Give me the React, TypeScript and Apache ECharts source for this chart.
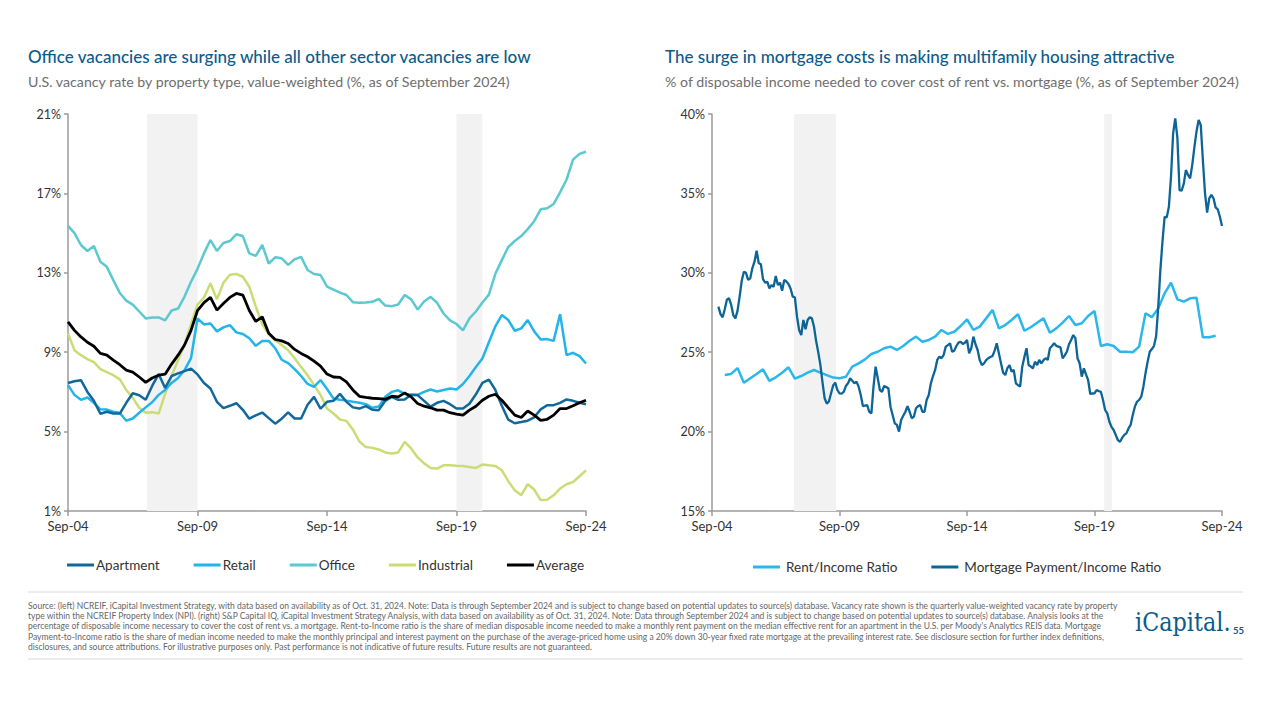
import React, { useEffect, useRef } from "react";
import * as echarts from "echarts";

// ---------- Data ----------
const xTickLabels = ["Sep-04", "Sep-09", "Sep-14", "Sep-19", "Sep-24"];

// Left chart: quarterly vacancy rates (%), Sep-04 .. Sep-24 (81 quarters)
const apartment = [
  7.45, 7.54, 7.59, 7.0, 6.55, 5.9, 6.0, 5.91, 5.91, 6.45,
  6.93, 6.83, 6.6, 7.3, 7.9, 7.2, 7.8, 7.93, 8.05, 8.17,
  7.88, 7.45, 7.17, 6.5, 6.18, 6.3, 6.43, 6.1, 5.65, 5.82,
  5.96, 5.68, 5.4, 5.65, 5.97, 5.66, 5.66, 6.35, 6.75, 6.15,
  6.5, 6.55, 6.9, 6.5, 6.22, 6.16, 6.28, 6.1, 6.08, 6.55,
  6.75, 6.6, 6.62, 6.86, 6.84, 6.55, 6.26, 6.45, 6.55, 6.38,
  6.16, 6.16, 6.4, 6.88, 7.45, 7.62, 7.1, 6.3, 5.6, 5.42,
  5.48, 5.55, 5.72, 6.12, 6.33, 6.33, 6.45, 6.62, 6.55, 6.45,
  6.38,
];
const retail = [
  7.34, 6.85, 6.6, 6.72, 6.45, 6.12, 6.11, 6.0, 5.94, 5.55,
  5.66, 5.95, 6.22, 6.48, 6.85, 7.1, 7.45, 7.7, 8.1, 8.7,
  10.7, 10.4, 10.45, 10.05, 10.25, 10.36, 10.0, 9.92, 9.7, 9.32,
  9.57, 9.57, 9.2, 8.62, 8.45, 8.15, 7.8, 7.4, 7.25, 7.6,
  7.15, 6.67, 6.6, 6.56, 6.5, 6.45, 6.38, 6.2, 6.26, 6.75,
  7.0, 7.08, 6.9, 6.86, 6.85, 7.0, 7.12, 7.02, 7.1, 7.17,
  7.12, 7.4, 7.8, 8.25, 8.68, 9.5, 10.3, 10.87, 10.62, 10.08,
  10.2, 10.62, 10.05, 9.64, 9.66, 9.57, 10.92, 8.85, 8.97, 8.8,
  8.43,
];
const office = [
  15.36, 15.0, 14.4, 14.1, 14.35, 13.56, 13.3, 12.63, 11.98, 11.6,
  11.4, 11.05, 10.7, 10.75, 10.75, 10.6, 11.1, 11.2, 11.8, 12.55,
  13.2, 13.98, 14.65, 14.1, 14.5, 14.6, 14.94, 14.85, 13.98, 13.85,
  14.4, 13.47, 13.78, 13.73, 13.4, 13.68, 13.8, 13.14, 12.94, 12.89,
  12.3, 12.15, 12.0, 11.88, 11.52, 11.49, 11.5, 11.54, 11.68, 11.35,
  11.32, 11.4, 11.88, 11.66, 11.15, 11.55, 11.79, 11.49, 10.95, 10.6,
  10.42, 10.1, 10.7, 11.05, 11.5, 11.9, 12.95, 13.64, 14.3, 14.6,
  14.85, 15.2, 15.6, 16.2, 16.25, 16.47, 17.05, 17.7, 18.7, 18.99,
  19.1,
];
const industrial = [
  9.95, 9.1, 8.85, 8.65, 8.5, 8.15, 8.0, 7.84, 7.63, 7.1,
  6.7, 6.2, 5.95, 5.98, 5.91, 6.9, 7.8, 8.6, 9.4, 10.4,
  11.4, 11.75, 12.47, 11.66, 12.5, 12.9, 12.94, 12.8, 12.3, 11.3,
  10.4, 9.9, 9.6, 9.36, 9.1, 8.7, 8.26, 7.84, 7.35, 6.85,
  6.16, 5.91, 5.61, 5.54, 5.1, 4.5, 4.22, 4.18, 4.1, 3.95,
  3.9, 3.95, 4.48, 4.15, 3.7, 3.4, 3.17, 3.14, 3.3, 3.3,
  3.28, 3.27, 3.22, 3.17, 3.34, 3.3, 3.27, 3.05, 2.5, 2.04,
  1.8, 2.35, 2.08, 1.55, 1.57, 1.79, 2.13, 2.35, 2.46, 2.75,
  3.05,
];
const average = [
  10.53, 10.1, 9.77, 9.5, 9.3, 8.94, 8.85, 8.6, 8.37, 8.1,
  8.0, 7.75, 7.48, 7.7, 7.84, 7.89, 8.4, 8.85, 9.36, 10.1,
  11.1, 11.5, 11.76, 11.12, 11.45, 11.76, 11.96, 11.88, 11.1, 10.55,
  10.78, 9.95, 9.64, 9.57, 9.44, 9.14, 8.94, 8.77, 8.55, 8.3,
  7.9, 7.75, 7.73, 7.5, 7.1, 6.78, 6.72, 6.68, 6.66, 6.63,
  6.78, 6.75, 6.95, 6.75, 6.42, 6.28, 6.2, 6.08, 6.08, 5.95,
  5.88, 5.83, 6.08, 6.28, 6.58, 6.78, 6.88, 6.58, 6.2, 5.83,
  5.71, 6.04, 5.83, 5.57, 5.62, 5.83, 6.16, 6.16, 6.3, 6.45,
  6.58,
];
const leftRecessions = [[12.2, 20], [60, 64]]; // in quarters since Sep-04

// Right chart: monthly mortgage payment / income (%), from month 3 (Dec-04) to month 240 (Sep-24)
const mortgageStartMonth = 3;
const mortgage = [
  27.87, 27.4, 27.2, 27.7, 28.3, 28.4, 28.0, 27.34, 27.13, 27.6,
  28.5, 29.5, 30.07, 30.0, 29.55, 29.65, 30.3, 30.7, 31.39, 30.6,
  30.55, 29.6, 29.38, 29.44, 29.02, 29.23, 29.12, 29.8, 29.23, 29.38,
  28.87, 29.55, 29.45, 29.3, 29.0, 28.5, 28.46, 27.24, 26.4, 26.08,
  27.03, 26.44, 27.03, 27.2, 27.13, 26.6, 25.7, 25.0, 24.2, 23.1,
  22.1, 21.76, 21.9, 22.4, 22.9, 23.08, 22.62, 22.41, 22.39, 22.5,
  22.87, 23.04, 23.36, 23.2, 23.04, 23.14, 22.83, 22.3, 21.61, 21.64,
  21.67, 21.25, 21.15, 22.83, 24.09, 23.36, 22.62, 22.51, 22.87, 22.8,
  22.73, 21.57, 21.05, 20.52, 20.42, 20.0, 20.73, 21.0, 21.25, 21.61,
  21.25, 20.84, 20.94, 21.47, 21.6, 21.67, 21.25, 21.25, 21.99, 22.3,
  23.04, 23.5, 23.88, 24.51, 24.72, 24.62, 24.82, 25.35, 25.45, 25.56,
  25.03, 25.1, 25.39, 25.6, 25.66, 25.52, 25.6, 25.77, 24.93, 25.25,
  25.98, 25.5, 25.14, 24.5, 24.19, 24.3, 24.5, 24.62, 24.7, 24.76,
  25.1, 25.56, 24.93, 24.3, 23.71, 23.56, 24.0, 24.19, 23.77, 23.88,
  23.04, 22.93, 22.83, 24.09, 24.7, 25.25, 24.19, 24.1, 23.98, 24.4,
  24.19, 24.51, 24.3, 24.5, 24.62, 24.51, 25.25, 25.39, 25.56, 25.4,
  25.35, 25.3, 24.62, 24.8, 25.03, 25.5, 25.77, 26.08, 25.88, 24.62,
  24.3, 23.46, 23.98, 23.6, 23.25, 22.37, 22.4, 22.41, 22.62, 22.55,
  22.51, 21.99, 21.36, 21.15, 20.62, 20.3, 20.1, 19.79, 19.47, 19.36,
  19.6, 19.79, 19.89, 20.2, 20.42, 21.05, 21.57, 21.88, 22.0, 22.2,
  22.83, 23.67, 24.4, 25.03, 25.2, 25.4, 26.0, 27.87, 30.18, 32.0,
  33.53, 33.49, 34.16, 36.05, 38.78, 39.73, 38.5, 35.21, 35.17, 35.6,
  36.47, 36.16, 35.95, 36.8, 37.9, 38.9, 39.62, 39.31, 37.1, 35.01,
  33.79, 34.69, 34.9, 34.69, 34.12, 34.0, 33.53, 32.95,
];
// Quarterly rent / income (%), from month 6 (Mar-05), every 3 months
const rentStartMonth = 6;
const rentStepMonths = 3;
const rent = [
  23.56, 23.63, 24.0, 23.08, 23.36, 23.63, 23.92, 23.19, 23.42, 23.71,
  24.05, 23.33, 23.5, 23.71, 23.88, 23.71, 23.56, 23.4, 23.36, 23.45,
  24.09, 24.3, 24.55, 24.89, 25.03, 25.25, 25.35, 25.14, 25.39, 25.72,
  25.98, 25.66, 25.77, 25.98, 26.4, 26.15, 26.29, 26.65, 27.07, 26.4,
  26.61, 27.13, 27.66, 26.5, 26.71, 27.03, 27.39, 26.35, 26.57, 26.86,
  27.13, 26.23, 26.5, 26.86, 27.28, 26.71, 26.82, 27.28, 27.59, 25.39,
  25.5, 25.39, 25.03, 25.03, 25.0, 25.35, 27.45, 27.2, 27.76, 28.71,
  29.38, 28.33, 28.18, 28.39, 28.43, 25.94, 25.94, 26.04,
];
const rightRecessions = [[38.6, 58.4], [184.6, 188.2]]; // in months since Sep-04

const leftTitle = "Office vacancies are surging while all other sector vacancies are low";
const leftSubtitle = "U.S. vacancy rate by property type, value-weighted (%, as of September 2024)";
const rightTitle = "The surge in mortgage costs is making multifamily housing attractive";
const rightSubtitle = "% of disposable income needed to cover cost of rent vs. mortgage (%, as of September 2024)";
const footnoteLines = [
  "Source: (left) NCREIF, iCapital Investment Strategy, with data based on availability as of Oct. 31, 2024. Note: Data is through September 2024 and is subject to change based on potential updates to source(s) database. Vacancy rate shown is the quarterly value-weighted vacancy rate by property",
  "type within the NCREIF Property Index (NPI). (right) S&P Capital IQ, iCapital Investment Strategy Analysis, with data based on availability as of Oct. 31, 2024. Note: Data through September 2024 and is subject to change based on potential updates to source(s) database. Analysis looks at the",
  "percentage of disposable income necessary to cover the cost of rent vs. a mortgage. Rent-to-Income ratio is the share of median disposable income needed to make a monthly rent payment on the median effective rent for an apartment in the U.S. per Moody's Analytics REIS data. Mortgage",
  "Payment-to-Income ratio is the share of median income needed to make the monthly principal and interest payment on the purchase of the average-priced home using a 20% down 30-year fixed rate mortgage at the prevailing interest rate. See disclosure section for further index definitions,",
  "disclosures, and source attributions. For illustrative purposes only. Past performance is not indicative of future results. Future results are not guaranteed.",
];

// ---------- Styles ----------
const FONT = "Lato, 'Open Sans', sans-serif";
const C = {
  apartment: "#11689B",
  retail: "#22B4EA",
  office: "#5CC8D0",
  industrial: "#CADD75",
  average: "#000000",
  rent: "#2AB7EC",
  mortgage: "#0D6496",
  title: "#0B5B8D",
  sub: "#6E6E6E",
  axis: "#9B9B9B",
  label: "#333333",
  shade: "#F2F2F2",
};

function buildOption(): any {
  const axisLine = { show: true, onZero: false, lineStyle: { color: C.axis, width: 1.5 } };
  const xAxisBase = {
    type: "value",
    axisLine,
    axisTick: { show: true, length: 5, lineStyle: { color: C.axis, width: 1.5 } },
    splitLine: { show: false },
  };
  const yAxisBase = {
    type: "value",
    axisLine,
    axisTick: { show: true, length: 4, lineStyle: { color: C.axis, width: 1.5 } },
    splitLine: { show: false },
    axisLabel: { formatter: "{value}%", color: C.label, fontSize: 12.5, fontFamily: FONT, margin: 7 },
  };
  const lineSeries = (name: string, data: number[][], color: string, xi: number, width: number, z: number) => ({
    name,
    type: "line",
    xAxisIndex: xi,
    yAxisIndex: xi,
    data,
    showSymbol: false,
    symbol: "none",
    lineStyle: { color, width },
    itemStyle: { color },
    z,
    silent: true,
  });
  const shadeSeries = (xi: number, ranges: number[][]) => ({
    name: "shade" + xi,
    type: "line",
    xAxisIndex: xi,
    yAxisIndex: xi,
    data: [],
    silent: true,
    z: 1,
    markArea: {
      silent: true,
      itemStyle: { color: C.shade },
      data: ranges.map((r) => [{ xAxis: r[0] }, { xAxis: r[1] }]),
    },
  });
  const q = (arr: number[]) => arr.map((v, i) => [i, v]);

  const textEl = (text: string, left: number, top: number, size: number, fill: string, weight: any = "normal", family = FONT, extra: any = {}) => ({
    type: "text",
    left,
    top,
    silent: true,
    ...extra,
    style: { text, fill, fontSize: size, fontFamily: family, fontWeight: weight },
  });

  const graphics: any[] = [
    textEl(leftTitle, 28, 48, 17, C.title, 500),
    textEl(leftSubtitle, 28, 74, 14.2, C.sub),
    textEl(rightTitle, 665, 48, 17, C.title, 500),
    textEl(rightSubtitle, 665, 74, 14.2, C.sub),
    { type: "line", silent: true, shape: { x1: 28, y1: 592, x2: 1243, y2: 592 }, style: { stroke: "#D6DBE1", lineWidth: 1 } },
    { type: "line", silent: true, shape: { x1: 28, y1: 659, x2: 1243, y2: 659 }, style: { stroke: "#D6DBE1", lineWidth: 1 } },
    ...footnoteLines.map((t, i) => textEl(t, 28, 601 + i * 10.4, 8.5, "#666666")),
    textEl("iCapital.", 1135, 609, 26, C.title, "normal", "'DejaVu Serif', serif", { scaleX: 0.86 }),
    textEl("55", 1233, 625, 9.5, C.title, "bold"),
  ];

  return {
    animation: false,
    backgroundColor: "#ffffff",
    textStyle: { fontFamily: FONT },
    grid: [
      { left: 68, top: 114, width: 518, height: 397 },
      { left: 712, top: 114, width: 510, height: 397 },
    ],
    xAxis: [
      {
        ...xAxisBase,
        gridIndex: 0,
        min: 0,
        max: 80,
        interval: 20,
        axisLabel: { formatter: (v: number) => xTickLabels[Math.round(v / 20)], color: C.label, fontSize: 13, fontFamily: FONT, margin: 8 },
      },
      {
        ...xAxisBase,
        gridIndex: 1,
        min: 0,
        max: 240,
        interval: 60,
        axisLabel: { formatter: (v: number) => xTickLabels[Math.round(v / 60)], color: C.label, fontSize: 13, fontFamily: FONT, margin: 8 },
      },
    ],
    yAxis: [
      { ...yAxisBase, gridIndex: 0, min: 1, max: 21, interval: 4 },
      { ...yAxisBase, gridIndex: 1, min: 15, max: 40, interval: 5 },
    ],
    legend: [
      {
        data: ["Apartment", "Retail", "Office", "Industrial", "Average"],
        left: 62,
        top: 553,
        icon: "rect",
        itemWidth: 27,
        itemHeight: 3,
        itemGap: 34,
        selectedMode: false,
        textStyle: { fontSize: 13.5, color: C.label, fontFamily: FONT, padding: [0, 0, 0, -3] },
      },
      {
        data: ["Rent/Income Ratio", "Mortgage Payment/Income Ratio"],
        left: 748,
        top: 555,
        icon: "rect",
        itemWidth: 27,
        itemHeight: 3,
        itemGap: 34,
        selectedMode: false,
        textStyle: { fontSize: 13.5, color: C.label, fontFamily: FONT, padding: [0, 0, 0, 1] },
      },
    ],
    series: [
      shadeSeries(0, leftRecessions),
      shadeSeries(1, rightRecessions),
      lineSeries("Office", q(office), C.office, 0, 2.5, 3),
      lineSeries("Industrial", q(industrial), C.industrial, 0, 2.5, 3),
      lineSeries("Retail", q(retail), C.retail, 0, 2.5, 3),
      lineSeries("Apartment", q(apartment), C.apartment, 0, 2.5, 3),
      lineSeries("Average", q(average), C.average, 0, 2.8, 4),
      lineSeries("Rent/Income Ratio", rent.map((v, i) => [rentStartMonth + i * rentStepMonths, v]), C.rent, 1, 2.5, 3),
      lineSeries("Mortgage Payment/Income Ratio", mortgage.map((v, i) => [mortgageStartMonth + i, v]), C.mortgage, 1, 2.3, 4),
    ],
    graphic: graphics,
  };
}

export default function App() {
  const ref = useRef<HTMLDivElement>(null);
  useEffect(() => {
    if (!ref.current) return;
    const chart = echarts.init(ref.current, null, { renderer: "svg" });
    chart.setOption(buildOption());
    return () => chart.dispose();
  }, []);
  return (
    <div
      ref={ref}
      style={{ position: "fixed", left: 0, top: 0, width: 1280, height: 720, background: "#ffffff" }}
    />
  );
}
